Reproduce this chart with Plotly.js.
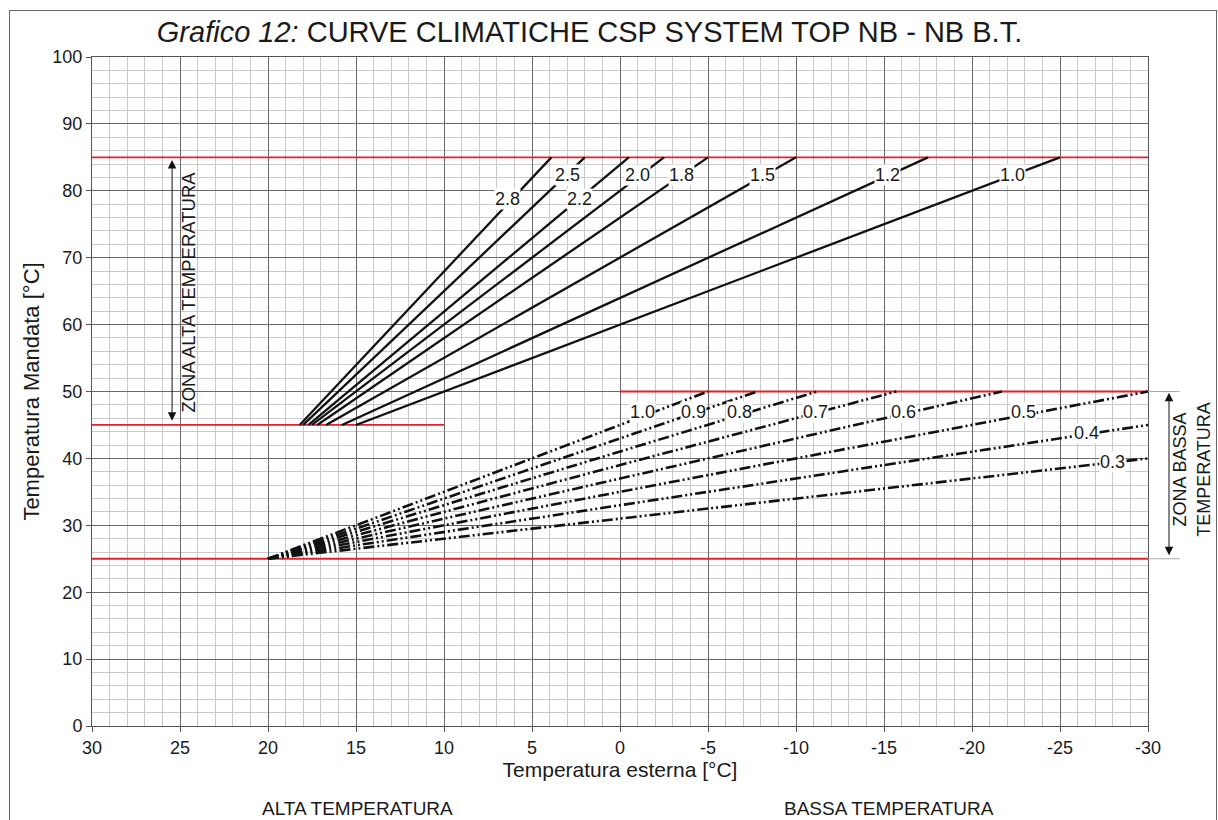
<!DOCTYPE html>
<html>
<head>
<meta charset="utf-8">
<script src="https://cdn.plot.ly/plotly-3.0.1.min.js"></script>
<style>
  html, body { margin: 0; padding: 0; background: #fff; }
  #wrap { position: relative; width: 1218px; height: 820px; overflow: hidden; }
  #frame { position: absolute; left: 9px; top: 10px; width: 1206px; height: 830px;
           border: 1px solid #666; pointer-events: none; }
  #chart { position: absolute; left: 0; top: 0; width: 1218px; height: 820px; }
</style>
</head>
<body>
<div id="wrap">
  <div id="chart"></div>
  <div id="frame"></div>
</div>
<script>
// ---- High-temperature curves (solid) ----
const hiCurveNames = ['2.8', '2.5', '2.2', '2.0', '1.8', '1.5', '1.2', '1.0'];
const hiStartX = [18.2, 18.0, 17.7, 17.5, 17.2, 16.7, 15.8, 15.0];
const hiStartT = [45, 45, 45, 45, 45, 45, 45, 45];
const hiEndX = [3.9, 2.0, -0.5, -2.5, -5.0, -10.0, -17.5, -25.0];
const hiEndT = [85, 85, 85, 85, 85, 85, 85, 85];
const hiLabelX = [6.4, 3.0, 2.3, -1.0, -3.5, -8.1, -15.2, -22.3];
const hiLabelT = [78.8, 82.4, 78.8, 82.4, 82.4, 82.4, 82.4, 82.4];

// ---- Low-temperature curves (dash-dot-dot) ----
const loCurveNames = ['1.0', '0.9', '0.8', '0.7', '0.6', '0.5', '0.4', '0.3'];
const loStartX = [20, 20, 20, 20, 20, 20, 20, 20];
const loStartT = [25, 25, 25, 25, 25, 25, 25, 25];
const loEndX = [-5.0, -7.8, -11.2, -15.7, -21.7, -30, -30, -30];
const loEndT = [50, 50, 50, 50, 50, 50, 45, 40];
const loLabelX = [-1.25, -4.15, -6.8, -11.1, -16.1, -22.9, -26.5, -28.0];
const loLabelT = [46.9, 46.9, 46.9, 46.9, 46.9, 46.9, 43.8, 39.5];

// ---- Red limit lines ----
const limitT = [85, 45, 50, 25];
const limitFromX = [30, 30, 0, 30];
const limitToX = [-30, 10, -30, -30];

// ---- Axis ticks ----
const xTickVals = [30, 25, 20, 15, 10, 5, 0, -5, -10, -15, -20, -25, -30];
const xTickText = ['30', '25', '20', '15', '10', '5', '0', '-5', '-10', '-15', '-20', '-25', '-30'];
const yTickVals = [0, 10, 20, 30, 40, 50, 60, 70, 80, 90, 100];

const textColor = '#1a1a1a';
const FONT = 'Liberation Sans, Arial, sans-serif';

const traces = [];
limitT.forEach((t, i) => {
  traces.push({
    x: [limitFromX[i], limitToX[i]], y: [t, t],
    mode: 'lines', line: { color: '#e3202c', width: 1.8 },
    hoverinfo: 'skip', showlegend: false, cliponaxis: false
  });
});
hiCurveNames.forEach((n, i) => {
  traces.push({
    x: [hiStartX[i], hiEndX[i]], y: [hiStartT[i], hiEndT[i]],
    mode: 'lines', name: n, line: { color: '#111', width: 2.3 },
    showlegend: false
  });
});
loCurveNames.forEach((n, i) => {
  traces.push({
    x: [loStartX[i], loEndX[i]], y: [loStartT[i], loEndT[i]],
    mode: 'lines', name: n,
    line: { color: '#111', width: 2.6, dash: '11px,3px,2px,3px,2px,3px' },
    showlegend: false
  });
});

const labelFont = { family: FONT, size: 18, color: textColor };
const annotations = [];
hiCurveNames.forEach((n, i) => {
  annotations.push({ x: hiLabelX[i], y: hiLabelT[i], text: n, showarrow: false,
    xanchor: 'center', yanchor: 'middle', bgcolor: '#fff', borderpad: 0, font: labelFont });
});
loCurveNames.forEach((n, i) => {
  annotations.push({ x: loLabelX[i], y: loLabelT[i], text: n, showarrow: false,
    xanchor: 'center', yanchor: 'middle', bgcolor: '#fff', borderpad: 0, font: labelFont });
});
// Zone arrows
annotations.push({ x: 25.45, y: 84.6, ax: 25.45, ay: 45.4, axref: 'x', ayref: 'y',
  xref: 'x', yref: 'y', text: '', showarrow: true, arrowside: 'end+start',
  arrowhead: 2, startarrowhead: 2, arrowsize: 1.7, startarrowsize: 1.7, arrowwidth: 1, arrowcolor: '#111' });
annotations.push({ x: 24.5, y: 64.9, text: 'ZONA ALTA TEMPERATURA', textangle: -90, showarrow: false,
  xanchor: 'center', yanchor: 'middle', font: { family: FONT, size: 18.5, color: textColor } });
annotations.push({ x: 1.0199, y: 49.8, ax: 0, ay: 25.3, ayref: 'y', xref: 'paper', yref: 'y',
  text: '', showarrow: true, arrowside: 'end+start',
  arrowhead: 2, startarrowhead: 2, arrowsize: 1.7, startarrowsize: 1.7, arrowwidth: 1, arrowcolor: '#111' });
annotations.push({ x: 1.0417, y: 38.3, xref: 'paper', yref: 'y', text: 'ZONA BASSA<br>TEMPERATURA',
  textangle: -90, showarrow: false, xanchor: 'center', yanchor: 'middle',
  font: { family: FONT, size: 18, color: textColor } });
// Bottom captions
annotations.push({ x: 0.251, y: -0.1226, xref: 'paper', yref: 'paper', text: 'ALTA TEMPERATURA',
  showarrow: false, xanchor: 'center', yanchor: 'middle', font: { family: FONT, size: 19, color: textColor } });
annotations.push({ x: 0.755, y: -0.1226, xref: 'paper', yref: 'paper', text: 'BASSA TEMPERATURA',
  showarrow: false, xanchor: 'center', yanchor: 'middle', font: { family: FONT, size: 19, color: textColor } });

const shapes = [
  { type: 'line', xref: 'paper', yref: 'y', x0: 1.0, x1: 1.03, y0: 50, y1: 50, line: { color: '#aaa', width: 1 } },
  { type: 'line', xref: 'paper', yref: 'y', x0: 1.0, x1: 1.03, y0: 25, y1: 25, line: { color: '#aaa', width: 1 } }
];

const axisCommon = {
  showgrid: true, gridcolor: '#6a6a6a', gridwidth: 1,
  zeroline: false, showline: true, linecolor: '#555', linewidth: 1, mirror: true,
  ticks: 'outside', ticklen: 5, tickcolor: '#555',
  tickfont: { family: FONT, size: 18, color: textColor }
};

const layout = {
  width: 1218, height: 820,
  margin: { l: 92, r: 70, t: 57, b: 94 },
  paper_bgcolor: '#fff', plot_bgcolor: '#fff',
  title: {
    text: '<i>Grafico 12:</i> CURVE CLIMATICHE CSP SYSTEM TOP NB - NB B.T.',
    font: { family: FONT, size: 29, color: textColor },
    x: 0.484, xanchor: 'center', y: 0.961, yanchor: 'middle', xref: 'container', yref: 'container'
  },
  xaxis: Object.assign({}, axisCommon, {
    range: [30, -30], tickmode: 'array', tickvals: xTickVals, ticktext: xTickText,
    minor: { dtick: 1, showgrid: true, gridcolor: '#c9c9c9', gridwidth: 1, ticks: '' },
    title: { text: 'Temperatura esterna [°C]', standoff: 3, font: { family: FONT, size: 21, color: textColor } }
  }),
  yaxis: Object.assign({}, axisCommon, {
    range: [0, 100], tickmode: 'array', tickvals: yTickVals,
    minor: { dtick: 2, showgrid: true, gridcolor: '#c9c9c9', gridwidth: 1, ticks: '' },
    title: { text: 'Temperatura Mandata [°C]', standoff: 6, font: { family: FONT, size: 22, color: textColor } }
  }),
  annotations: annotations,
  shapes: shapes,
  showlegend: false
};

Plotly.newPlot('chart', traces, layout, { displayModeBar: false, staticPlot: true });
</script>
</body>
</html>
